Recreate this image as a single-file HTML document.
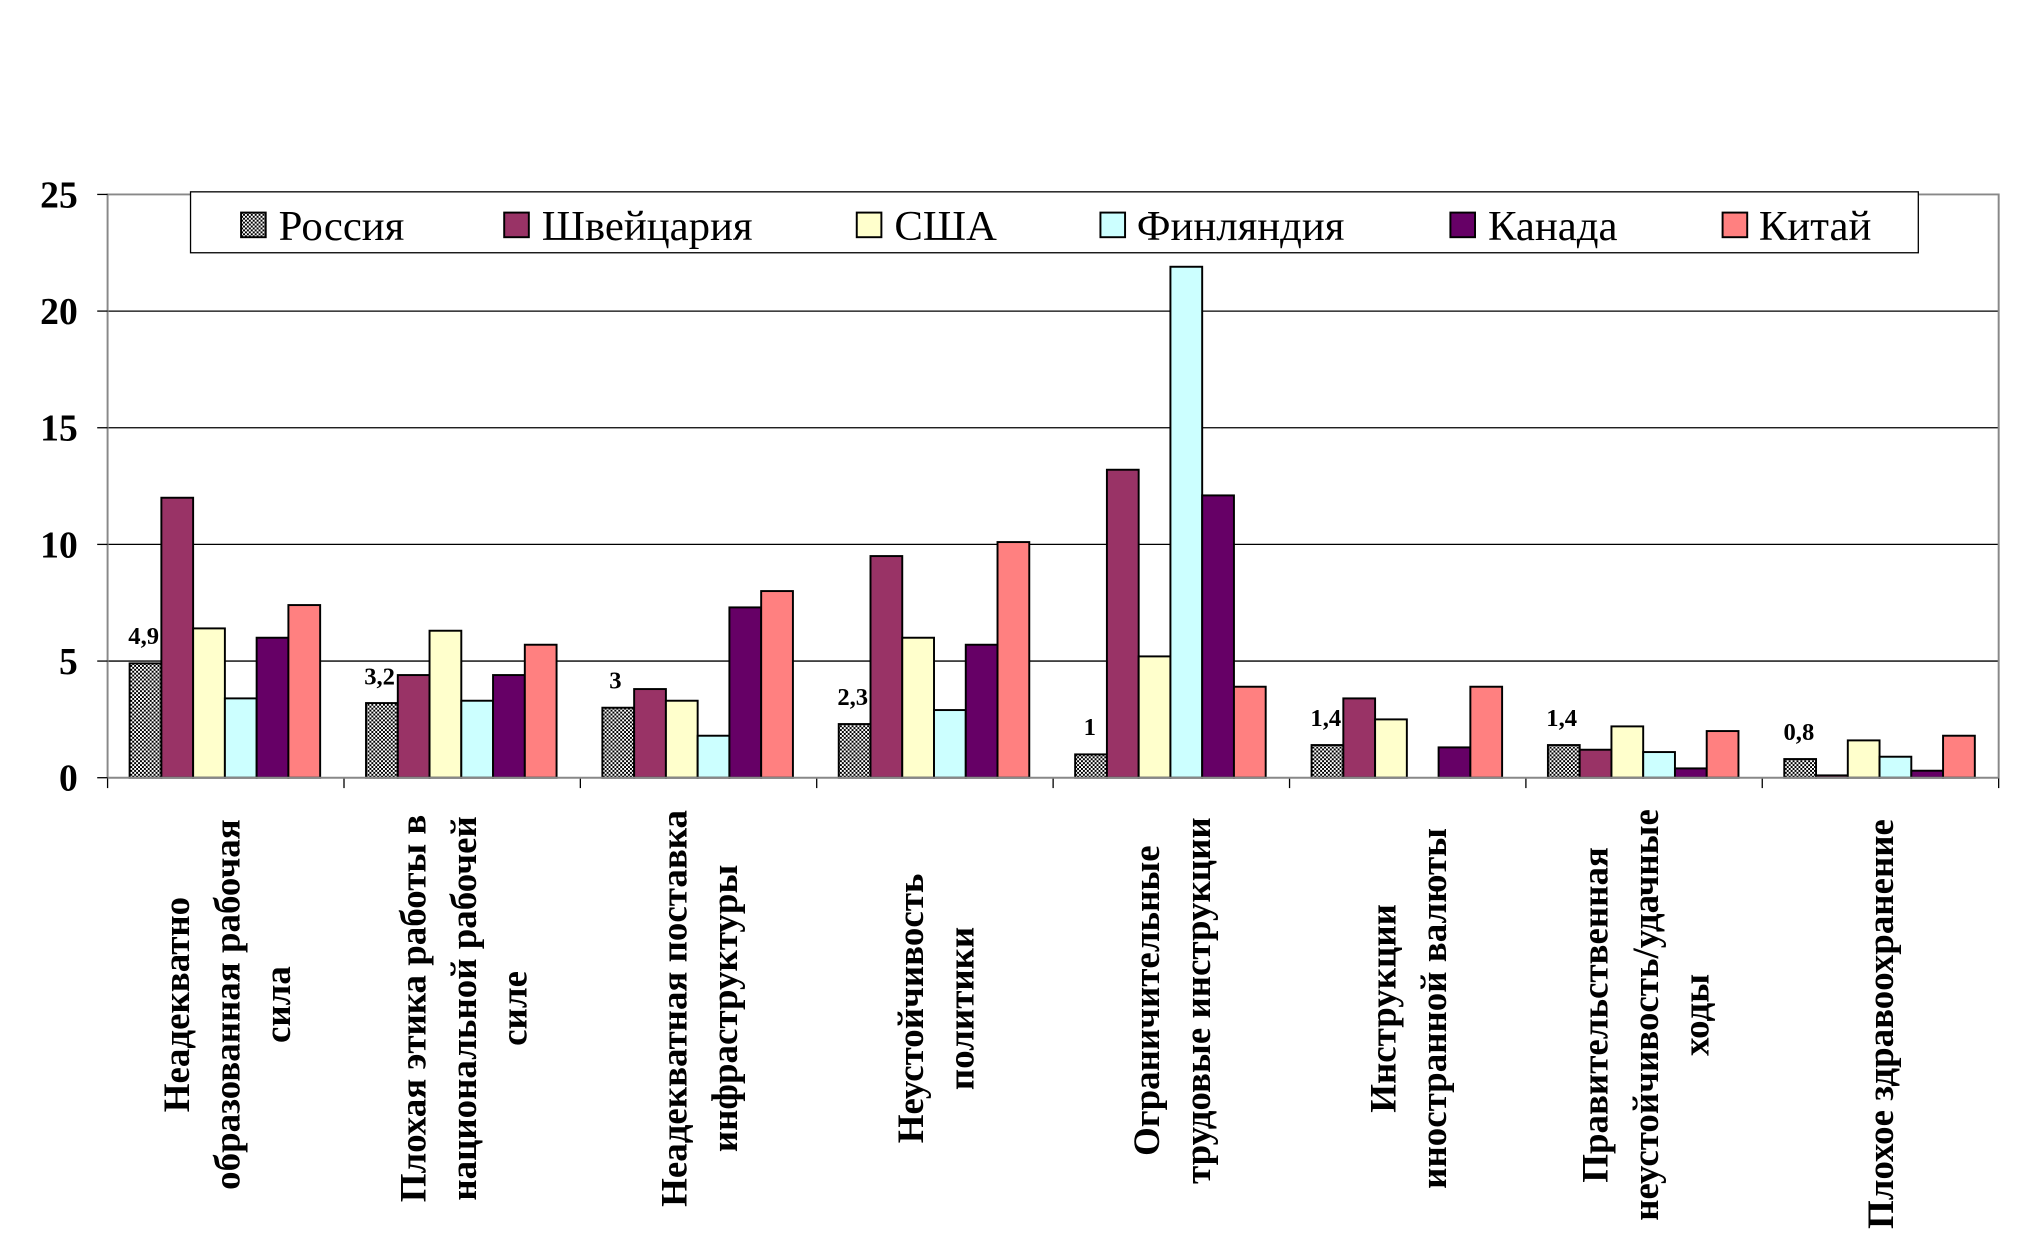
<!DOCTYPE html>
<html><head><meta charset="utf-8"><style>html,body{margin:0;padding:0;background:#fff}svg{display:block}</style></head>
<body>
<svg width="2022" height="1259" viewBox="0 0 1560 971.3" preserveAspectRatio="none" xmlns="http://www.w3.org/2000/svg" font-family="'Liberation Serif',serif">
<defs>
<pattern id="ck" width="3" height="3" patternUnits="userSpaceOnUse">
<rect width="3" height="3" fill="#000"/><rect x="0" y="0" width="1.5" height="1.5" fill="#fff"/><rect x="1.5" y="1.5" width="1.5" height="1.5" fill="#fff"/>
</pattern>
</defs>
<rect width="1560" height="971.3" fill="#fff"/>
<g stroke="#000" stroke-width="1">
<line x1="83" y1="240" x2="1542" y2="240"/><line x1="83" y1="330" x2="1542" y2="330"/>
<line x1="83" y1="420" x2="1542" y2="420"/><line x1="83" y1="510" x2="1542" y2="510"/>
</g>
<g stroke="#888" stroke-width="1.5" fill="none"><polyline points="83,600 83,150 1542,150 1542,600"/></g>
<g stroke="#000" stroke-width="1">
<line x1="75" y1="150" x2="83" y2="150"/><line x1="75" y1="240" x2="83" y2="240"/><line x1="75" y1="330" x2="83" y2="330"/><line x1="75" y1="420" x2="83" y2="420"/><line x1="75" y1="510" x2="83" y2="510"/><line x1="75" y1="600" x2="83" y2="600"/>
<line x1="83" y1="600" x2="83" y2="608"/><line x1="265.4" y1="600" x2="265.4" y2="608"/><line x1="447.75" y1="600" x2="447.75" y2="608"/><line x1="630.1" y1="600" x2="630.1" y2="608"/><line x1="812.5" y1="600" x2="812.5" y2="608"/><line x1="994.9" y1="600" x2="994.9" y2="608"/><line x1="1177.25" y1="600" x2="1177.25" y2="608"/><line x1="1359.6" y1="600" x2="1359.6" y2="608"/><line x1="1542" y1="600" x2="1542" y2="608"/>
</g>
<g font-weight="bold" font-size="29" text-anchor="end">
<text x="60" y="160">25</text><text x="60" y="250">20</text><text x="60" y="340">15</text><text x="60" y="430">10</text><text x="60" y="520">5</text><text x="60" y="610">0</text>
</g>
<g stroke="#000" stroke-width="1.5">
<rect x="100" y="511.8" width="24.5" height="88.2" fill="url(#ck)"/><rect x="124.5" y="384" width="24.5" height="216" fill="#993366"/><rect x="149" y="484.8" width="24.5" height="115.2" fill="#FFFFCC"/><rect x="173.5" y="538.8" width="24.5" height="61.2" fill="#CCFFFF"/><rect x="198" y="492" width="24.5" height="108" fill="#660066"/><rect x="222.5" y="466.8" width="24.5" height="133.2" fill="#FF8080"/>
<rect x="282.4" y="542.4" width="24.5" height="57.6" fill="url(#ck)"/><rect x="306.9" y="520.8" width="24.5" height="79.2" fill="#993366"/><rect x="331.4" y="486.6" width="24.5" height="113.4" fill="#FFFFCC"/><rect x="355.9" y="540.6" width="24.5" height="59.4" fill="#CCFFFF"/><rect x="380.4" y="520.8" width="24.5" height="79.2" fill="#660066"/><rect x="404.9" y="497.4" width="24.5" height="102.6" fill="#FF8080"/>
<rect x="464.75" y="546" width="24.5" height="54" fill="url(#ck)"/><rect x="489.25" y="531.6" width="24.5" height="68.4" fill="#993366"/><rect x="513.75" y="540.6" width="24.5" height="59.4" fill="#FFFFCC"/><rect x="538.25" y="567.6" width="24.5" height="32.4" fill="#CCFFFF"/><rect x="562.75" y="468.6" width="24.5" height="131.4" fill="#660066"/><rect x="587.25" y="456" width="24.5" height="144" fill="#FF8080"/>
<rect x="647.1" y="558.6" width="24.5" height="41.4" fill="url(#ck)"/><rect x="671.6" y="429" width="24.5" height="171" fill="#993366"/><rect x="696.1" y="492" width="24.5" height="108" fill="#FFFFCC"/><rect x="720.6" y="547.8" width="24.5" height="52.2" fill="#CCFFFF"/><rect x="745.1" y="497.4" width="24.5" height="102.6" fill="#660066"/><rect x="769.6" y="418.2" width="24.5" height="181.8" fill="#FF8080"/>
<rect x="829.5" y="582" width="24.5" height="18" fill="url(#ck)"/><rect x="854" y="362.4" width="24.5" height="237.6" fill="#993366"/><rect x="878.5" y="506.4" width="24.5" height="93.6" fill="#FFFFCC"/><rect x="903" y="205.8" width="24.5" height="394.2" fill="#CCFFFF"/><rect x="927.5" y="382.2" width="24.5" height="217.8" fill="#660066"/><rect x="952" y="529.8" width="24.5" height="70.2" fill="#FF8080"/>
<rect x="1011.9" y="574.8" width="24.5" height="25.2" fill="url(#ck)"/><rect x="1036.4" y="538.8" width="24.5" height="61.2" fill="#993366"/><rect x="1060.9" y="555" width="24.5" height="45" fill="#FFFFCC"/><rect x="1109.9" y="576.6" width="24.5" height="23.4" fill="#660066"/><rect x="1134.4" y="529.8" width="24.5" height="70.2" fill="#FF8080"/>
<rect x="1194.25" y="574.8" width="24.5" height="25.2" fill="url(#ck)"/><rect x="1218.75" y="578.4" width="24.5" height="21.6" fill="#993366"/><rect x="1243.25" y="560.4" width="24.5" height="39.6" fill="#FFFFCC"/><rect x="1267.75" y="580.2" width="24.5" height="19.8" fill="#CCFFFF"/><rect x="1292.25" y="592.8" width="24.5" height="7.2" fill="#660066"/><rect x="1316.75" y="564" width="24.5" height="36" fill="#FF8080"/>
<rect x="1376.6" y="585.6" width="24.5" height="14.4" fill="url(#ck)"/><rect x="1401.1" y="598.2" width="24.5" height="1.8" fill="#993366"/><rect x="1425.6" y="571.2" width="24.5" height="28.8" fill="#FFFFCC"/><rect x="1450.1" y="583.8" width="24.5" height="16.2" fill="#CCFFFF"/><rect x="1474.6" y="594.6" width="24.5" height="5.4" fill="#660066"/><rect x="1499.1" y="567.6" width="24.5" height="32.4" fill="#FF8080"/>
</g>
<line x1="83" y1="600" x2="1542" y2="600" stroke="#888" stroke-width="1.5"/>
<g font-weight="bold" font-size="19">
<text x="99" y="497">4,9</text><text x="281" y="528">3,2</text><text x="470" y="531">3</text><text x="646" y="544">2,3</text><text x="836" y="567">1</text><text x="1011" y="560">1,4</text><text x="1193" y="560">1,4</text><text x="1376" y="571">0,8</text>
</g>
<rect x="147" y="148" width="1333" height="47" fill="#fff" stroke="#000" stroke-width="1"/>
<g stroke="#000" stroke-width="1.5">
<rect x="186" y="164" width="19" height="19" fill="url(#ck)"/><rect x="389" y="164" width="19" height="19" fill="#993366"/><rect x="661" y="164" width="19" height="19" fill="#FFFFCC"/><rect x="849" y="164" width="19" height="19" fill="#CCFFFF"/><rect x="1119" y="164" width="19" height="19" fill="#660066"/><rect x="1329" y="164" width="19" height="19" fill="#FF8080"/>
</g>
<g font-size="33">
<text x="215" y="185">Россия</text><text x="418" y="185">Швейцария</text><text x="690" y="185">США</text><text x="877" y="185">Финляндия</text><text x="1148" y="185">Канада</text><text x="1357" y="185">Китай</text>
</g>
<g font-weight="bold" font-size="28.5" text-anchor="middle" dominant-baseline="central">
<text transform="translate(136,775) rotate(-90)">Неадекватно</text>
<text transform="translate(175,775) rotate(-90)">образованная рабочая</text>
<text transform="translate(214,775) rotate(-90)">сила</text>
<text transform="translate(318.6,778) rotate(-90)">Плохая этика работы в</text>
<text transform="translate(357.6,778) rotate(-90)">национальной рабочей</text>
<text transform="translate(396.6,778) rotate(-90)">силе</text>
<text transform="translate(520,778) rotate(-90)">Неадекватная поставка</text>
<text transform="translate(559,778) rotate(-90)">инфраструктуры</text>
<text transform="translate(702.3,778) rotate(-90)">Неустойчивость</text>
<text transform="translate(741.3,778) rotate(-90)">политики</text>
<text transform="translate(884.7,772) rotate(-90)">Ограничительные</text>
<text transform="translate(923.7,772) rotate(-90)">трудовые инструкции</text>
<text transform="translate(1067,778) rotate(-90)">Инструкции</text>
<text transform="translate(1106,778) rotate(-90)">иностранной валюты</text>
<text transform="translate(1230.4,783) rotate(-90)">Правительственная</text>
<text transform="translate(1269.4,783) rotate(-90)">неустойчивость/удачные</text>
<text transform="translate(1308.4,783) rotate(-90)">ходы</text>
<text transform="translate(1450.8,790) rotate(-90)">Плохое здравоохранение</text>
</g>
</svg>
</body></html>
